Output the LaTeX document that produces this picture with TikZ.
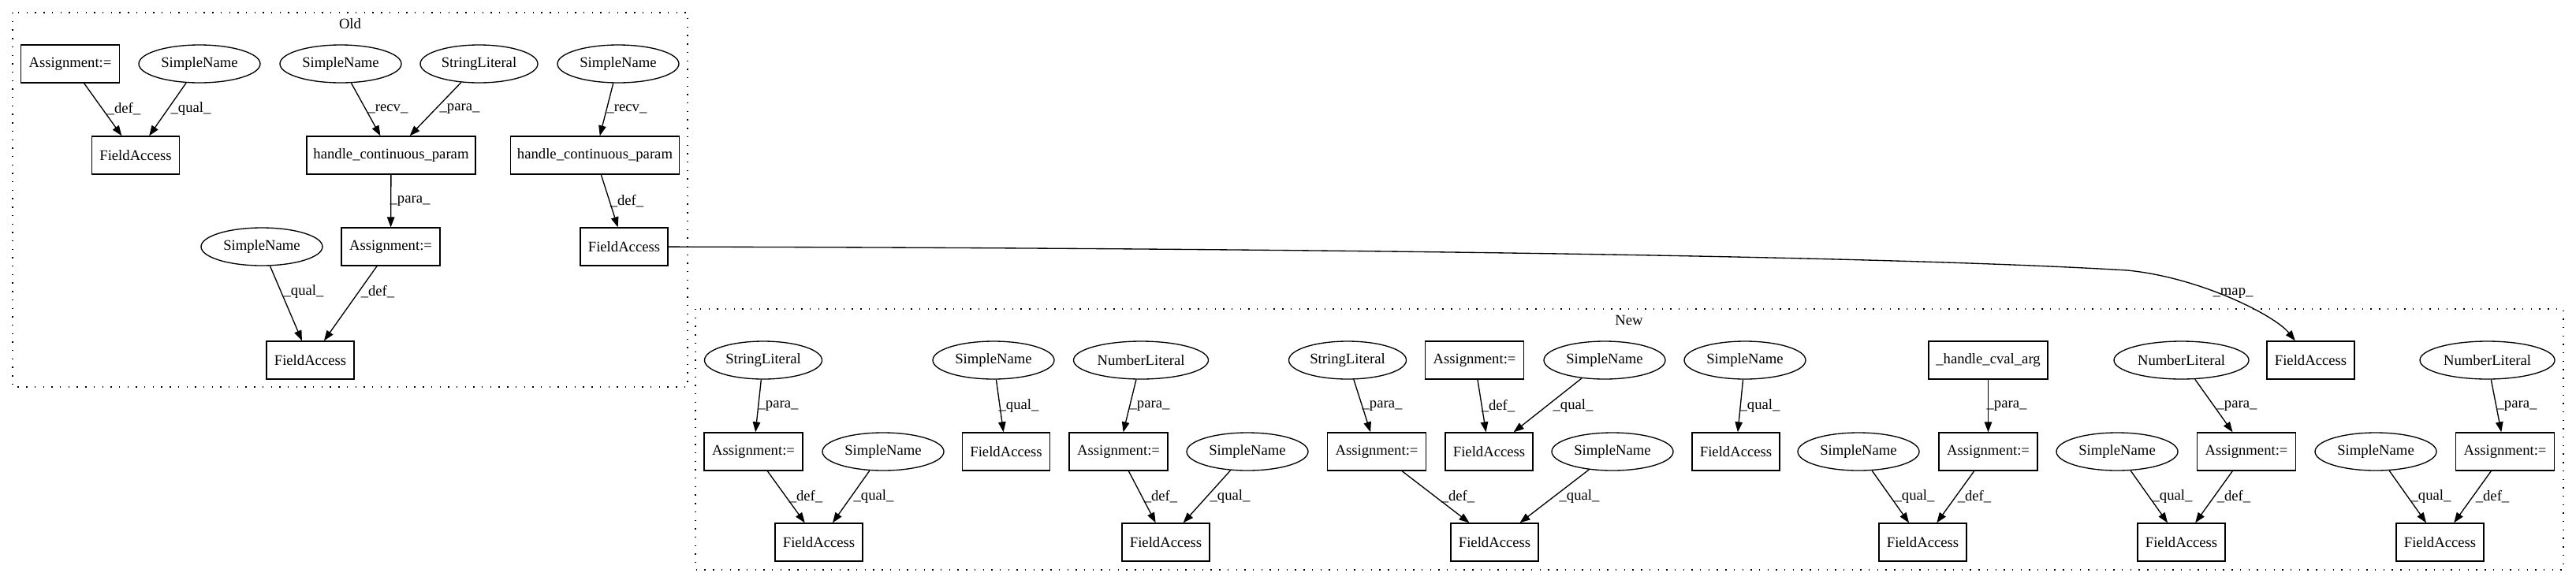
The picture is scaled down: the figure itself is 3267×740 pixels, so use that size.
\documentclass[tikz,border=0pt]{standalone}
\usepackage{fontspec}
\setmainfont{Liberation Serif}
\usetikzlibrary{shapes.geometric,arrows.meta}
\begin{document}
\begin{tikzpicture}[x=1pt,y=-1pt,
  every node/.style={font=\fontsize{18.67}{22}\selectfont, line width=1.33pt},
  box/.style={draw, rectangle, minimum height=48pt, inner sep=0pt},
  fa/.style={box, minimum width=111pt},
  asg/.style={box, minimum width=125pt},
  hcp/.style={box, minimum width=214pt},
  ell/.style={draw, ellipse, minimum height=48pt, inner sep=0pt},
  sn/.style={ell, minimum width=154pt},
  sl/.style={ell, minimum width=149pt},
  nl/.style={ell, minimum width=171pt},
  lbl/.style={inner sep=0pt},
  arr/.style={-{Triangle[length=13pt,width=9.5pt]}, line width=1.33pt},
  clus/.style={draw, line width=1.33pt, dash pattern=on 1.4pt off 9.3pt}
]
\useasboundingbox (0,0) rectangle (3267,740);
% clusters
\draw[clus] (16,16) rectangle (872,491);
\node[lbl] (oldlbl) at (444,30) {Old};
\draw[clus] (882,392) rectangle (3251,723);
\node[lbl] (newlbl) at (2066,406) {New};

% Old nodes
\node[asg] (o1) at (89,81) {Assignment:=};
\node[sn]  (o2) at (253,81) {SimpleName};
\node[fa]  (o3) at (172,197) {FieldAccess};
\node[sn]  (o4) at (432,81) {SimpleName};
\node[sl]  (o5) at (607.5,81) {StringLiteral};
\node[sn]  (o6) at (784,81) {SimpleName};
\node[hcp] (o7) at (496,197) {handle\_continuous\_param};
\node[hcp] (o8) at (754.5,197) {handle\_continuous\_param};
\node[asg] (o9) at (495.5,313) {Assignment:=};
\node[sn]  (o10) at (332,313) {SimpleName};
\node[fa]  (o11) at (791.5,313) {FieldAccess};
\node[fa]  (o12) at (393.5,457) {FieldAccess};

% Old edges
\draw[arr] (o1) -- (o3);
\draw[arr] (o2) -- (o3);
\draw[arr] (o4) -- (o7);
\draw[arr] (o5) -- (o7);
\draw[arr] (o6) -- (o8);
\draw[arr] (o7) -- (o9);
\draw[arr] (o8) -- (o11);
\draw[arr] (o10) -- (o12);
\draw[arr] (o9) -- (o12);
\node[lbl] (lo1) at (157,138) {\_def\_};
\node[lbl] (lo2) at (242,138) {\_qual\_};
\node[lbl] (lo3) at (492,138) {\_recv\_};
\node[lbl] (lo4) at (583,138) {\_para\_};
\node[lbl] (lo5) at (795,138) {\_recv\_};
\node[lbl] (lo6) at (520,255) {\_para\_};
\node[lbl] (lo7) at (795,255) {\_def\_};
\node[lbl] (lo8) at (385,370) {\_qual\_};
\node[lbl] (lo9) at (479,370) {\_def\_};

% New nodes
\node[sl]  (n1) at (968,457) {StringLiteral};
\node[asg] (n2) at (955.5,573) {Assignment:=};
\node[sn]  (n3) at (1120,573) {SimpleName};
\node[fa]  (n4) at (1038.5,688) {FieldAccess};
\node[sn]  (n5) at (1260,457) {SimpleName};
\node[fa]  (n6) at (1276,573) {FieldAccess};
\node[nl]  (n7) at (1447,457) {NumberLiteral};
\node[asg] (n8) at (1418.5,573) {Assignment:=};
\node[sn]  (n9) at (1582,573) {SimpleName};
\node[fa]  (n10) at (1478.5,688) {FieldAccess};
\node[sl]  (n11) at (1709,457) {StringLiteral};
\node[asg] (n12) at (1746,573) {Assignment:=};
\node[asg] (n13) at (1870,457) {Assignment:=};
\node[fa]  (n14) at (1888.5,573) {FieldAccess};
\node[fa]  (n15) at (1895.5,688) {FieldAccess};
\node[sn]  (n16) at (2035,457) {SimpleName};
\node[sn]  (n17) at (2045,573) {SimpleName};
\node[sn]  (n18) at (2213,457) {SimpleName};
\node[fa]  (n19) at (2201.5,573) {FieldAccess};
\node[sn]  (n20) at (2357,573) {SimpleName};
\node[fa]  (n21) at (2438.5,688) {FieldAccess};
\node[box, minimum width=151pt] (n22) at (2521.5,457) {\_handle\_cval\_arg};
\node[asg] (n23) at (2521.5,573) {Assignment:=};
\node[sn]  (n24) at (2685,573) {SimpleName};
\node[nl]  (n25) at (2766.5,457) {NumberLiteral};
\node[asg] (n26) at (2849,573) {Assignment:=};
\node[fa]  (n27) at (2766.5,688) {FieldAccess};
\node[fa]  (n28) at (2930.5,457) {FieldAccess};
\node[nl]  (n29) at (3154.5,457) {NumberLiteral};
\node[sn]  (n30) at (3013,573) {SimpleName};
\node[asg] (n31) at (3177,573) {Assignment:=};
\node[fa]  (n32) at (3094.5,688) {FieldAccess};

% New edges
\draw[arr] (n1) -- (n2);
\draw[arr] (n2) -- (n4);
\draw[arr] (n3) -- (n4);
\draw[arr] (n5) -- (n6);
\draw[arr] (n7) -- (n8);
\draw[arr] (n8) -- (n10);
\draw[arr] (n9) -- (n10);
\draw[arr] (n11) -- (n12);
\draw[arr] (n12) -- (n15);
\draw[arr] (n13) -- (n14);
\draw[arr] (n16) -- (n14);
\draw[arr] (n17) -- (n15);
\draw[arr] (n18) -- (n19);
\draw[arr] (n20) -- (n21);
\draw[arr] (n22) -- (n23);
\draw[arr] (n23) -- (n21);
\draw[arr] (n24) -- (n27);
\draw[arr] (n25) -- (n26);
\draw[arr] (n26) -- (n27);
\draw[arr] (n29) -- (n31);
\draw[arr] (n30) -- (n32);
\draw[arr] (n31) -- (n32);
\node[lbl] (ln1) at (987,515) {\_para\_};
\node[lbl] (ln2) at (1022,630) {\_def\_};
\node[lbl] (ln3) at (1108,630) {\_qual\_};
\node[lbl] (ln4) at (1292,515) {\_qual\_};
\node[lbl] (ln5) at (1458,515) {\_para\_};
\node[lbl] (ln6) at (1472,630) {\_def\_};
\node[lbl] (ln7) at (1560,630) {\_qual\_};
\node[lbl] (ln8) at (1753,515) {\_para\_};
\node[lbl] (ln9) at (1849,630) {\_def\_};
\node[lbl] (ln10) at (1900,515) {\_def\_};
\node[lbl] (ln11) at (1995,515) {\_qual\_};
\node[lbl] (ln12) at (2003,630) {\_qual\_};
\node[lbl] (ln13) at (2232,515) {\_qual\_};
\node[lbl] (ln14) at (2428,630) {\_qual\_};
\node[lbl] (ln15) at (2545,515) {\_para\_};
\node[lbl] (ln16) at (2504,630) {\_def\_};
\node[lbl] (ln17) at (2755,630) {\_qual\_};
\node[lbl] (ln18) at (2837,515) {\_para\_};
\node[lbl] (ln19) at (2833,630) {\_def\_};
\node[lbl] (ln20) at (3192,515) {\_para\_};
\node[lbl] (ln21) at (3083,630) {\_qual\_};
\node[lbl] (ln22) at (3161,630) {\_def\_};

% map edge
\draw[arr] (o11) .. controls (1700,315) and (2400,325) .. (2698,343)
  .. controls (2790,352) and (2885,400) .. (n28);
\node[lbl] (lmap) at (2832,372) {\_map\_};
\end{tikzpicture}
\end{document}
